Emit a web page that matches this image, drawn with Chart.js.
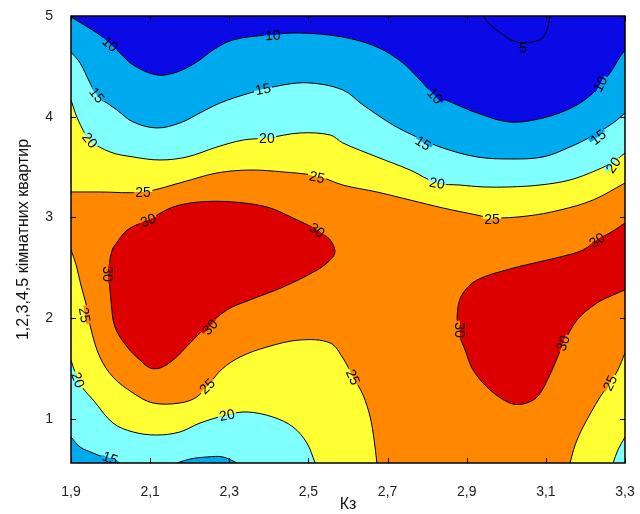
<!DOCTYPE html>
<html>
<head>
<meta charset="utf-8">
<script src="https://cdn.jsdelivr.net/npm/chart.js@4.4.1/dist/chart.umd.min.js"></script>
<style>
html,body{margin:0;padding:0;background:#fff;}
#wrap{width:640px;height:514px;position:relative;}
</style>
</head>
<body>
<div id="wrap"><canvas id="c"></canvas></div>
<script>
// ---- axes ----
const xTicks = [1.9, 2.1, 2.3, 2.5, 2.7, 2.9, 3.1, 3.3];
const yTicks = [1, 2, 3, 4, 5];
const xTitle = 'Кз';
const yTitle = '1,2,3,4,5 кімнатних квартир';

// ---- contour lines, [x, y] pairs ----
const c25Top = [[1.900,3.252],[1.973,3.252],[2.082,3.252],[2.183,3.351],[2.269,3.441],[2.352,3.470],[2.436,3.451],[2.522,3.411],[2.587,3.321],[2.673,3.252],[2.757,3.172],[2.840,3.093],[2.926,3.023],[2.964,2.994],[3.052,3.013],[3.136,3.073],[3.219,3.172],[3.300,3.341]];
const c20Top = [[1.900,4.166],[1.918,3.967],[1.948,3.768],[1.999,3.649],[2.057,3.600],[2.125,3.570],[2.193,3.600],[2.269,3.699],[2.335,3.768],[2.395,3.788],[2.479,3.838],[2.555,3.818],[2.587,3.739],[2.673,3.600],[2.757,3.470],[2.825,3.341],[2.883,3.321],[2.941,3.302],[3.009,3.302],[3.085,3.321],[3.161,3.371],[3.229,3.470],[3.270,3.550],[3.300,3.639]];
const c15Top = [[1.900,4.642],[1.923,4.533],[1.948,4.335],[1.968,4.195],[1.991,4.136],[2.016,4.066],[2.057,3.947],[2.117,3.888],[2.175,3.937],[2.226,4.037],[2.277,4.136],[2.352,4.235],[2.436,4.315],[2.504,4.335],[2.587,4.265],[2.638,4.116],[2.714,3.917],[2.774,3.798],[2.840,3.689],[2.926,3.600],[3.009,3.580],[3.093,3.600],[3.161,3.699],[3.212,3.798],[3.270,3.937],[3.300,4.037]];
const c10Top = [[1.900,4.990],[1.973,4.811],[2.016,4.662],[2.057,4.513],[2.117,4.414],[2.168,4.444],[2.218,4.543],[2.259,4.662],[2.309,4.762],[2.395,4.811],[2.479,4.831],[2.587,4.791],[2.673,4.692],[2.739,4.533],[2.782,4.364],[2.820,4.215],[2.865,4.136],[2.926,4.037],[3.009,3.947],[3.093,3.987],[3.169,4.096],[3.219,4.235],[3.262,4.434],[3.287,4.593],[3.300,4.662]];
const c5Top = [[2.941,5.000],[2.960,4.910],[2.986,4.831],[3.012,4.762],[3.045,4.732],[3.088,4.772],[3.103,4.861],[3.110,4.990]];
const c25BotLeft = [[1.900,2.676],[1.913,2.527],[1.925,2.328],[1.940,2.110],[1.951,1.881],[1.973,1.613],[2.006,1.414],[2.057,1.255],[2.107,1.156],[2.175,1.156],[2.218,1.216],[2.251,1.355],[2.282,1.494],[2.327,1.613],[2.395,1.712],[2.479,1.782],[2.555,1.752],[2.587,1.603],[2.613,1.414],[2.638,1.236],[2.656,1.017],[2.666,0.789],[2.673,0.560]];
const c20BotLeft = [[1.900,1.583],[1.910,1.464],[1.930,1.305],[1.956,1.186],[2.006,0.957],[2.057,0.868],[2.117,0.838],[2.175,0.868],[2.226,0.957],[2.294,1.037],[2.345,1.067],[2.410,1.017],[2.461,0.918],[2.496,0.759],[2.517,0.560]];
const c15BotLeft = [[1.900,0.818],[1.923,0.719],[1.956,0.659],[1.981,0.620],[2.004,0.590],[2.024,0.560]];
const c15BotMid = [[2.168,0.560],[2.201,0.600],[2.244,0.620],[2.284,0.620],[2.320,0.560]];
const c25BotRight = [[3.300,1.653],[3.282,1.484],[3.262,1.355],[3.237,1.216],[3.194,0.918],[3.174,0.739],[3.161,0.560]];
const c20BotRight = [[3.300,0.818],[3.282,0.689],[3.270,0.560]];
const c30Left = [[2.006,2.696],[2.042,2.874],[2.095,2.974],[2.158,3.103],[2.226,3.153],[2.309,3.153],[2.395,3.103],[2.461,2.994],[2.522,2.874],[2.555,2.775],[2.567,2.656],[2.555,2.576],[2.522,2.477],[2.436,2.308],[2.352,2.179],[2.294,2.080],[2.234,1.881],[2.201,1.752],[2.158,1.583],[2.125,1.504],[2.100,1.504],[2.074,1.583],[2.042,1.712],[2.011,1.911],[2.001,2.179],[1.996,2.428],[1.999,2.596]];
const c30Right = [[3.300,2.944],[3.262,2.845],[3.229,2.775],[3.194,2.676],[3.136,2.606],[3.093,2.567],[3.009,2.487],[2.926,2.378],[2.891,2.249],[2.878,2.110],[2.878,1.881],[2.896,1.682],[2.916,1.484],[2.959,1.285],[3.009,1.156],[3.042,1.146],[3.078,1.216],[3.110,1.434],[3.143,1.732],[3.179,1.981],[3.229,2.149],[3.270,2.229],[3.300,2.279]];

// ---- contour labels: text, x, y, angle (deg) ----
const contourLabels = [
  ['10',1.999,4.722,42],['10',2.410,4.811,-3],['10',2.820,4.205,48],['10',3.237,4.325,-62],
  ['5',3.042,4.682,0],
  ['15',1.966,4.215,52],['15',2.385,4.275,-12],['15',2.790,3.739,32],['15',3.232,3.798,-38],
  ['20',1.948,3.768,50],['20',2.395,3.788,0],['20',2.825,3.341,10],['20',3.270,3.520,-55],
  ['25',2.082,3.252,0],['25',2.522,3.401,12],['25',2.964,2.984,0],
  ['30',2.095,2.974,-22],['30',2.522,2.874,35],['30',1.994,2.437,90],['30',2.251,1.911,-48],
  ['30',2.883,1.881,90],['30',3.143,1.752,-70],['30',3.229,2.775,-35],
  ['25',1.935,2.030,80],['25',2.244,1.325,-45],['25',2.613,1.414,65],['25',3.262,1.355,-65],
  ['20',1.918,1.385,70],['20',2.294,1.037,-12],['15',1.999,0.610,20]
];

// ---- styles ----
const band = {
  lt10: '#0A0AE6', b10: '#00AAEE', b15: '#80FFFF',
  b20: '#FFFF33', b25: '#FF8800', gt30: '#DD0000'
};
const FONT = "'Liberation Sans', Arial, Helvetica, sans-serif";

// painter order: [points, closing mode, fill colour]
const layers = [
  [c25Top, 'top', band.b20],
  [c20Top, 'top', band.b15],
  [c15Top, 'top', band.b10],
  [c10Top, 'top', band.lt10],
  [c5Top, 'none', null],
  [c25BotLeft, 'bl', band.b20],
  [c20BotLeft, 'bl', band.b15],
  [c15BotLeft, 'bl', band.b10],
  [c15BotMid, 'close', band.b10],
  [c25BotRight, 'br', band.b20],
  [c20BotRight, 'br', band.b15],
  [c30Left, 'loop', band.gt30],
  [c30Right, 'close', band.gt30]
];

const datasets = layers.map(([pts, mode, col]) => {
  const p = mode === 'loop' ? pts.concat([pts[0]]) : pts;
  return {
    data: p.map(q => ({x: q[0], y: q[1]})),
    showLine: true, borderColor: '#000', borderWidth: 1,
    pointRadius: 0, pointHoverRadius: 0, tension: 0.35, fill: false,
    closeMode: mode, fillColor: col
  };
});

const contourPlugin = {
  id: 'contourFill',
  beforeDatasetsDraw(chart) {
    const {ctx, chartArea: a} = chart;
    ctx.save();
    ctx.beginPath();
    ctx.rect(a.left, a.top, a.right - a.left, a.bottom - a.top);
    ctx.clip();
    ctx.fillStyle = band.b25;
    ctx.fillRect(a.left, a.top, a.right - a.left, a.bottom - a.top);
    chart.data.datasets.forEach((ds, i) => {
      if (!ds.fillColor) return;
      const meta = chart.getDatasetMeta(i);
      const line = meta.dataset;
      ctx.beginPath();
      if (line && typeof line.path === 'function') {
        line.path(ctx);
      } else {
        meta.data.forEach((pt, k) => k ? ctx.lineTo(pt.x, pt.y) : ctx.moveTo(pt.x, pt.y));
      }
      if (ds.closeMode === 'top') { ctx.lineTo(a.right, a.top); ctx.lineTo(a.left, a.top); }
      else if (ds.closeMode === 'bl') { ctx.lineTo(a.left, a.bottom); }
      else if (ds.closeMode === 'br') { ctx.lineTo(a.right, a.bottom); }
      ctx.closePath();
      ctx.fillStyle = ds.fillColor;
      ctx.fill();
    });
    ctx.restore();
  },
  afterDatasetsDraw(chart) {
    const {ctx, chartArea: a} = chart;
    const xs = chart.scales.x, ys = chart.scales.y;
    ctx.save();
    ctx.font = '14px ' + FONT;
    const sample = (sx, sy) => {
      sx = Math.min(Math.max(Math.round(sx), a.left + 2), a.right - 2);
      sy = Math.min(Math.max(Math.round(sy), a.top + 2), a.bottom - 2);
      const d = ctx.getImageData(sx, sy, 1, 1).data;
      return `rgb(${d[0]},${d[1]},${d[2]})`;
    };
    const items = contourLabels.map(([t, lx, ly, ang]) => {
      const px = xs.getPixelForValue(lx), py = ys.getPixelForValue(ly);
      const r = ang * Math.PI / 180;
      const s = Math.sin(r), c = Math.cos(r);
      return {t, px, py, r,
        above: sample(px + 9 * s, py - 9 * c),
        below: sample(px - 9 * s, py + 9 * c)};
    });
    ctx.beginPath();
    ctx.rect(a.left, a.top, a.right - a.left, a.bottom - a.top);
    ctx.clip();
    items.forEach(it => {
      ctx.save();
      ctx.translate(it.px, it.py);
      ctx.rotate(it.r);
      const w = ctx.measureText(it.t).width + 3;
      ctx.fillStyle = it.above; ctx.fillRect(-w / 2, -5, w, 5);
      ctx.fillStyle = it.below; ctx.fillRect(-w / 2, 0, w, 5);
      ctx.fillStyle = '#000';
      ctx.textAlign = 'center';
      ctx.textBaseline = 'middle';
      ctx.fillText(it.t, 0, 1);
      ctx.restore();
    });
    ctx.restore();
    // frame and inner tick marks
    ctx.save();
    ctx.strokeStyle = '#000';
    ctx.lineWidth = 1;
    ctx.beginPath();
    xTicks.forEach(v => {
      const p = Math.round(xs.getPixelForValue(v)) + 0.5;
      ctx.moveTo(p, a.bottom); ctx.lineTo(p, a.bottom - 5);
      ctx.moveTo(p, a.top); ctx.lineTo(p, a.top + 5);
    });
    yTicks.forEach(v => {
      const p = Math.round(ys.getPixelForValue(v)) + 0.5;
      ctx.moveTo(a.left, p); ctx.lineTo(a.left + 5, p);
      ctx.moveTo(a.right, p); ctx.lineTo(a.right - 5, p);
    });
    ctx.stroke();
    ctx.lineWidth = 1.5;
    ctx.strokeRect(a.left, a.top, a.right - a.left, a.bottom - a.top);
    ctx.restore();
  }
};

Chart.defaults.font.family = FONT;
new Chart(document.getElementById('c'), {
  type: 'scatter',
  data: {datasets},
  options: {
    responsive: true, maintainAspectRatio: false, animation: false,
    devicePixelRatio: 1,
    layout: {padding: {left: 0, right: 15, top: 16, bottom: 0}},
    plugins: {legend: {display: false}, tooltip: {enabled: false}},
    events: [],
    scales: {
      x: {
        type: 'linear', min: 1.9, max: 3.3,
        grid: {display: false, drawTicks: false}, border: {display: false},
        afterBuildTicks: s => { s.ticks = xTicks.map(v => ({value: v})); },
        afterFit: s => { s.height = 51; s.paddingLeft = 0; s.paddingRight = 0; },
        ticks: {padding: 21, autoSkip: false, maxRotation: 0, color: '#222',
          font: {size: 14}, callback: v => String(v).replace('.', ',')},
        title: {display: true, text: xTitle, color: '#111', font: {size: 16},
          padding: {top: 0, bottom: 0}}
      },
      y: {
        type: 'linear', min: 0.56, max: 5,
        grid: {display: false, drawTicks: false}, border: {display: false},
        afterBuildTicks: s => { s.ticks = yTicks.map(v => ({value: v})); },
        afterFit: s => { s.width = 71; s.paddingTop = 0; s.paddingBottom = 0; },
        ticks: {padding: 18, color: '#222', font: {size: 14},
          callback: v => String(v)},
        title: {display: true, text: yTitle, color: '#111', font: {size: 16},
          padding: {top: 14, bottom: 0}}
      }
    }
  },
  plugins: [contourPlugin]
});
</script>
</body>
</html>
